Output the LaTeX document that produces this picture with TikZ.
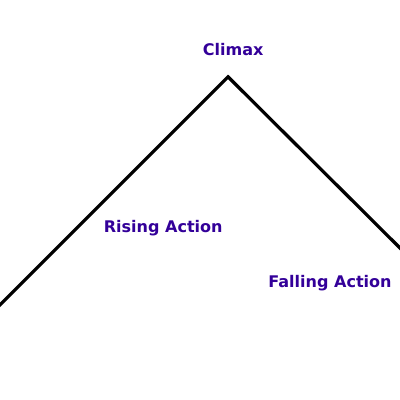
\documentclass[tikz,border=0pt]{standalone}
\usepackage{fontspec}
\setsansfont{DejaVu Sans}
\usetikzlibrary{positioning}

\begin{document}
\begin{tikzpicture}[
    font=\sffamily\bfseries\fontsize{11.4pt}{13pt}\selectfont,
    stage/.style={text=plotblue, inner sep=0pt, align=center},
    arc/.style={line width=2.3pt, draw=black}
]
\definecolor{plotblue}{RGB}{51,0,153}
\useasboundingbox (0,0) rectangle (10,10);

\coordinate (start) at (-0.05, 2.33);
\coordinate (peak) at (5.7, 8.08);
\coordinate (finish) at (10.05, 3.75);

\draw[arc] (start) -- (peak) -- (finish);

\node[stage] (climax) at (5.83, 8.75) {Climax};
\node[stage] (rising) at (4.08, 4.3) {Rising Action};
\node[stage] (falling) at (8.25, 2.93) {Falling Action};
\end{tikzpicture}
\end{document}
